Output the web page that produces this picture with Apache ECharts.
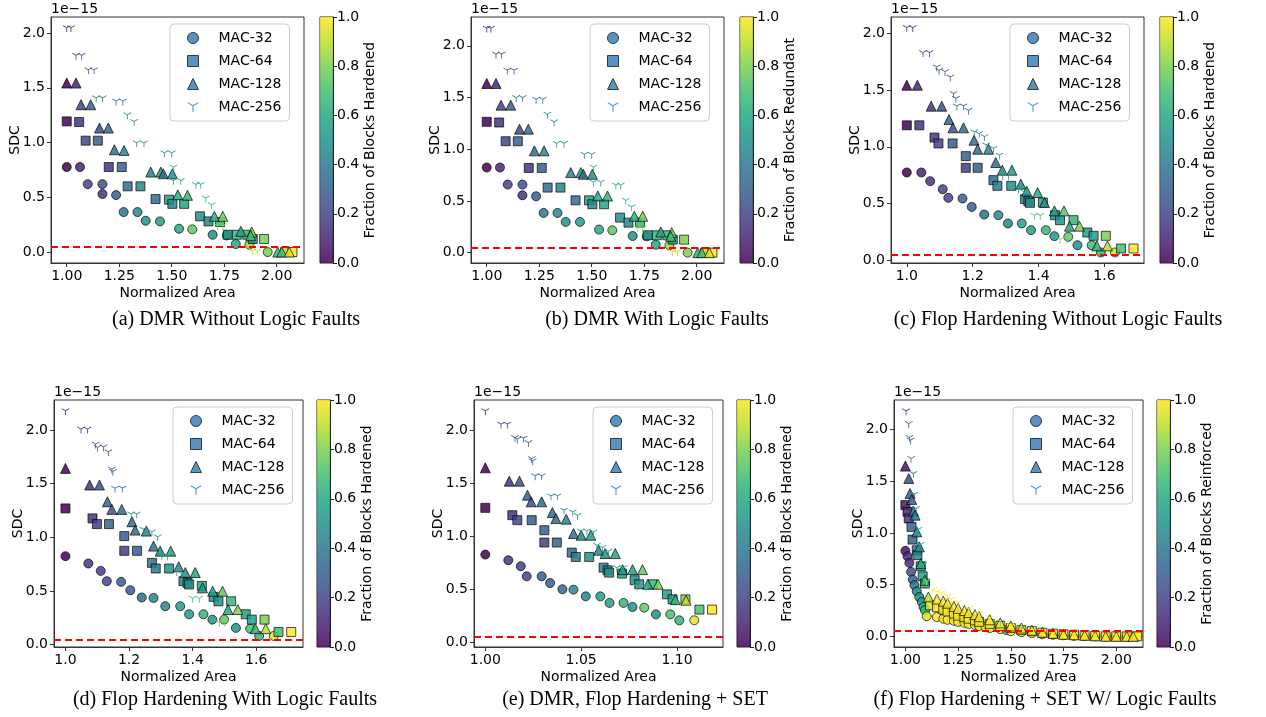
<!DOCTYPE html>
<html lang="en" style="height: 100%">
<head>
  <meta charset="utf-8">
</head>
<body style="height: 100%; margin: 0; background: #fff">
  <div id="container" style="width: 1266px; height: 717px"></div>

  <script type="text/javascript" src="https://fastly.jsdelivr.net/npm/echarts@6.0.0/dist/echarts.min.js"></script>
  <script type="text/javascript">
    // each point: [normalized area, SDC (x1e-15), fraction of blocks]
    // (a) DMR without logic faults
    var a32 = [[1.000,0.776,0.00],[1.063,0.776,0.10],[1.100,0.620,0.20],[1.170,0.620,0.25],[1.170,0.530,0.15],[1.235,0.520,0.30],[1.271,0.365,0.40],[1.337,0.365,0.45],[1.376,0.286,0.50],[1.444,0.280,0.55],[1.535,0.213,0.60],[1.598,0.207,0.75],[1.695,0.158,0.50],[1.762,0.152,0.60],[1.805,0.073,0.60],[1.870,0.067,0.85],[1.957,0.000,0.80]];
    var a64 = [[1.000,1.193,0.00],[1.059,1.187,0.15],[1.090,1.017,0.20],[1.148,1.017,0.30],[1.200,0.776,0.15],[1.262,0.776,0.30],[1.290,0.600,0.35],[1.351,0.600,0.45],[1.423,0.484,0.35],[1.487,0.478,0.55],[1.503,0.440,0.45],[1.559,0.440,0.60],[1.635,0.326,0.50],[1.675,0.280,0.45],[1.730,0.274,0.65],[1.767,0.158,0.50],[1.810,0.158,0.65],[1.860,0.158,0.65],[1.886,0.119,0.50],[1.940,0.119,0.80],[2.040,0.000,0.90],[2.075,0.000,1.00]];
    var a128 = [[1.000,1.543,0.00],[1.044,1.543,0.10],[1.068,1.345,0.20],[1.114,1.345,0.30],[1.156,1.132,0.20],[1.198,1.132,0.35],[1.227,0.934,0.35],[1.273,0.928,0.45],[1.400,0.730,0.45],[1.448,0.730,0.55],[1.460,0.715,0.35],[1.503,0.715,0.50],[1.529,0.523,0.60],[1.575,0.518,0.65],[1.703,0.326,0.65],[1.743,0.326,0.80],[1.829,0.189,0.60],[1.881,0.183,0.80],[1.876,0.149,0.70],[2.005,0.000,0.65],[2.024,0.000,0.70],[2.060,0.000,0.95]];
    var a256 = [[1.000,2.040,0.10],[1.020,2.040,0.10],[1.044,1.787,0.20],[1.071,1.787,0.20],[1.103,1.656,0.25],[1.130,1.656,0.25],[1.140,1.400,0.35],[1.171,1.400,0.35],[1.235,1.370,0.35],[1.267,1.370,0.35],[1.289,1.245,0.45],[1.321,1.184,0.45],[1.333,0.989,0.50],[1.368,0.989,0.50],[1.465,0.898,0.45],[1.500,0.898,0.45],[1.508,0.767,0.60],[1.508,0.645,0.55],[1.543,0.645,0.55],[1.615,0.609,0.60],[1.638,0.609,0.60],[1.662,0.484,0.65],[1.690,0.423,0.65],[1.717,0.234,0.80],[1.743,0.234,0.80],[1.884,0.000,0.90],[1.908,0.000,0.90]];

    // (b) DMR with logic faults
    var b32 = [[1.000,0.823,0.00],[1.063,0.823,0.10],[1.100,0.658,0.20],[1.170,0.658,0.25],[1.170,0.555,0.15],[1.235,0.545,0.30],[1.271,0.384,0.40],[1.337,0.384,0.45],[1.376,0.297,0.50],[1.444,0.297,0.55],[1.535,0.223,0.60],[1.598,0.216,0.75],[1.695,0.161,0.50],[1.762,0.158,0.60],[1.805,0.077,0.60],[1.870,0.071,0.85],[1.957,0.000,0.80]];
    var b64 = [[1.000,1.265,0.00],[1.059,1.258,0.15],[1.090,1.077,0.20],[1.148,1.077,0.30],[1.200,0.819,0.15],[1.262,0.819,0.30],[1.290,0.629,0.35],[1.351,0.629,0.45],[1.423,0.506,0.35],[1.487,0.506,0.55],[1.503,0.468,0.45],[1.559,0.468,0.60],[1.635,0.339,0.50],[1.675,0.290,0.45],[1.730,0.290,0.65],[1.767,0.168,0.50],[1.810,0.168,0.65],[1.860,0.168,0.65],[1.886,0.126,0.50],[1.940,0.126,0.80],[2.040,0.000,0.90],[2.075,0.000,1.00]];
    var b128 = [[1.000,1.635,0.00],[1.044,1.635,0.10],[1.068,1.426,0.20],[1.114,1.426,0.30],[1.156,1.194,0.20],[1.198,1.194,0.35],[1.227,0.984,0.35],[1.273,0.984,0.45],[1.400,0.774,0.45],[1.448,0.774,0.55],[1.460,0.758,0.35],[1.503,0.758,0.50],[1.529,0.548,0.60],[1.575,0.548,0.65],[1.703,0.352,0.65],[1.743,0.352,0.80],[1.829,0.200,0.60],[1.881,0.194,0.80],[1.876,0.158,0.70],[2.005,0.000,0.65],[2.024,0.000,0.70],[2.060,0.000,0.95]];
    var b256 = [[1.000,2.161,0.10],[1.020,2.161,0.10],[1.044,1.910,0.20],[1.071,1.910,0.20],[1.098,1.755,0.25],[1.130,1.755,0.25],[1.140,1.490,0.35],[1.171,1.490,0.35],[1.235,1.474,0.35],[1.267,1.474,0.35],[1.289,1.329,0.45],[1.321,1.255,0.45],[1.333,1.048,0.50],[1.368,1.048,0.50],[1.465,0.942,0.45],[1.500,0.942,0.45],[1.508,0.819,0.60],[1.508,0.674,0.55],[1.543,0.674,0.55],[1.615,0.645,0.60],[1.638,0.645,0.60],[1.662,0.497,0.65],[1.690,0.435,0.65],[1.717,0.232,0.80],[1.743,0.232,0.80],[1.884,0.000,0.90],[1.908,0.000,0.90]];

    // (c) flop hardening without logic faults
    var c32 = [[1.000,0.774,0.00],[1.044,0.774,0.10],[1.071,0.697,0.15],[1.109,0.626,0.20],[1.126,0.550,0.20],[1.169,0.544,0.30],[1.197,0.470,0.30],[1.235,0.403,0.35],[1.278,0.397,0.45],[1.307,0.324,0.45],[1.349,0.324,0.55],[1.377,0.265,0.55],[1.422,0.265,0.65],[1.448,0.212,0.50],[1.490,0.206,0.75],[1.518,0.132,0.50],[1.561,0.132,0.70],[1.589,0.068,0.65],[1.632,0.068,0.95]];
    var c64 = [[1.000,1.190,0.00],[1.038,1.190,0.15],[1.084,1.082,0.15],[1.096,1.030,0.20],[1.139,1.030,0.30],[1.179,0.918,0.30],[1.179,0.815,0.18],[1.215,0.815,0.30],[1.263,0.706,0.35],[1.275,0.656,0.40],[1.317,0.656,0.50],[1.359,0.538,0.45],[1.369,0.520,0.40],[1.374,0.506,0.50],[1.413,0.509,0.60],[1.450,0.397,0.50],[1.465,0.353,0.50],[1.506,0.353,0.65],[1.548,0.244,0.55],[1.567,0.215,0.55],[1.604,0.215,0.80],[1.650,0.103,0.70],[1.688,0.103,1.00]];
    var c128 = [[1.000,1.544,0.00],[1.032,1.544,0.10],[1.074,1.359,0.15],[1.106,1.359,0.25],[1.128,1.241,0.30],[1.140,1.168,0.25],[1.172,1.168,0.35],[1.204,1.059,0.35],[1.215,0.979,0.35],[1.248,0.979,0.45],[1.270,0.862,0.38],[1.290,0.794,0.45],[1.319,0.794,0.55],[1.346,0.671,0.45],[1.364,0.609,0.50],[1.397,0.597,0.60],[1.418,0.509,0.50],[1.448,0.435,0.55],[1.477,0.435,0.75],[1.494,0.300,0.60],[1.524,0.300,0.80],[1.577,0.126,0.65],[1.609,0.126,0.90]];
    var c256 = [[1.000,2.044,0.10],[1.018,2.044,0.10],[1.049,1.824,0.15],[1.069,1.824,0.15],[1.091,1.697,0.25],[1.098,1.668,0.25],[1.116,1.656,0.25],[1.132,1.609,0.25],[1.142,1.462,0.30],[1.149,1.421,0.30],[1.152,1.353,0.30],[1.172,1.353,0.30],[1.187,1.315,0.30],[1.205,1.124,0.45],[1.220,1.109,0.45],[1.236,1.082,0.45],[1.241,1.009,0.50],[1.263,0.979,0.50],[1.281,0.918,0.50],[1.291,0.735,0.55],[1.309,0.735,0.55],[1.339,0.618,0.60],[1.354,0.597,0.60],[1.387,0.388,0.70],[1.405,0.388,0.70],[1.465,0.176,0.80],[1.486,0.176,0.80]];

    // (d) flop hardening with logic faults
    var d32 = [[1.000,0.824,0.00],[1.072,0.756,0.15],[1.111,0.687,0.18],[1.130,0.591,0.22],[1.175,0.585,0.30],[1.204,0.507,0.30],[1.240,0.439,0.35],[1.277,0.435,0.45],[1.314,0.358,0.45],[1.361,0.358,0.55],[1.389,0.283,0.55],[1.434,0.283,0.65],[1.462,0.233,0.50],[1.499,0.233,0.75],[1.536,0.156,0.50],[1.581,0.149,0.70],[1.609,0.081,0.65],[1.655,0.081,0.95]];
    var d64 = [[1.000,1.269,0.00],[1.085,1.176,0.15],[1.099,1.123,0.20],[1.137,1.123,0.30],[1.185,1.011,0.30],[1.185,0.874,0.18],[1.225,0.874,0.30],[1.272,0.762,0.35],[1.284,0.709,0.40],[1.326,0.709,0.50],[1.371,0.591,0.45],[1.384,0.575,0.40],[1.389,0.560,0.50],[1.429,0.547,0.60],[1.466,0.445,0.50],[1.481,0.404,0.50],[1.521,0.404,0.65],[1.567,0.283,0.55],[1.586,0.233,0.55],[1.626,0.233,0.80],[1.670,0.118,0.70],[1.710,0.118,1.00]];
    var d128 = [[1.000,1.642,0.00],[1.076,1.487,0.15],[1.107,1.487,0.25],[1.132,1.331,0.30],[1.146,1.260,0.25],[1.177,1.260,0.35],[1.209,1.145,0.35],[1.219,1.067,0.35],[1.254,1.058,0.45],[1.277,0.918,0.38],[1.298,0.871,0.45],[1.331,0.871,0.55],[1.356,0.725,0.45],[1.377,0.672,0.50],[1.408,0.672,0.60],[1.431,0.529,0.50],[1.463,0.498,0.55],[1.494,0.498,0.75],[1.511,0.327,0.60],[1.542,0.327,0.80],[1.597,0.149,0.65],[1.630,0.149,0.90]];
    var d256 = [[1.000,2.171,0.10],[1.049,2.000,0.15],[1.069,2.000,0.15],[1.095,1.860,0.25],[1.101,1.829,0.25],[1.120,1.835,0.25],[1.135,1.788,0.25],[1.146,1.627,0.30],[1.149,1.605,0.30],[1.156,1.449,0.30],[1.179,1.449,0.30],[1.207,1.207,0.45],[1.224,1.207,0.45],[1.245,1.067,0.50],[1.272,1.042,0.50],[1.290,0.995,0.50],[1.303,0.818,0.55],[1.321,0.818,0.55],[1.350,0.672,0.60],[1.366,0.653,0.60],[1.400,0.423,0.70],[1.421,0.423,0.70],[1.484,0.196,0.80],[1.502,0.196,0.80]];

    // (e) DMR, flop hardening + SET
    var e32 = [[1.0000,0.825,0.00],[1.0120,0.772,0.15],[1.0185,0.715,0.18],[1.0216,0.620,0.22],[1.0294,0.620,0.30],[1.0338,0.557,0.30],[1.0402,0.498,0.35],[1.0460,0.494,0.45],[1.0524,0.431,0.45],[1.0600,0.431,0.55],[1.0648,0.369,0.55],[1.0721,0.369,0.65],[1.0768,0.331,0.50],[1.0829,0.324,0.75],[1.0890,0.261,0.50],[1.0965,0.261,0.70],[1.1012,0.205,0.65],[1.1090,0.205,0.95]];
    var e64 = [[1.0000,1.266,0.00],[1.0141,1.197,0.15],[1.0167,1.150,0.20],[1.0242,1.150,0.30],[1.0308,1.055,0.30],[1.0308,0.939,0.18],[1.0373,0.939,0.30],[1.0451,0.844,0.35],[1.0472,0.803,0.40],[1.0542,0.803,0.50],[1.0617,0.702,0.45],[1.0638,0.677,0.40],[1.0646,0.655,0.50],[1.0713,0.646,0.60],[1.0779,0.583,0.50],[1.0803,0.545,0.50],[1.0873,0.545,0.65],[1.0948,0.450,0.55],[1.0977,0.403,0.55],[1.1044,0.403,0.80],[1.1117,0.306,0.70],[1.1183,0.306,1.00]];
    var e128 = [[1.0000,1.644,0.00],[1.0125,1.518,0.15],[1.0178,1.518,0.25],[1.0220,1.386,0.30],[1.0239,1.323,0.25],[1.0294,1.323,0.35],[1.0350,1.222,0.35],[1.0368,1.165,0.35],[1.0422,1.159,0.45],[1.0460,1.024,0.38],[1.0500,1.008,0.45],[1.0550,1.008,0.55],[1.0591,0.866,0.45],[1.0625,0.835,0.50],[1.0678,0.835,0.60],[1.0716,0.683,0.50],[1.0768,0.683,0.55],[1.0820,0.683,0.75],[1.0848,0.545,0.60],[1.0901,0.545,0.80],[1.0991,0.400,0.65],[1.1047,0.394,0.90]];
    var e256 = [[1.0000,2.173,0.10],[1.0082,2.047,0.15],[1.0115,2.047,0.15],[1.0155,1.921,0.25],[1.0167,1.906,0.25],[1.0199,1.915,0.25],[1.0225,1.874,0.25],[1.0242,1.723,0.30],[1.0247,1.701,0.30],[1.0260,1.559,0.30],[1.0294,1.559,0.30],[1.0343,1.370,0.40],[1.0376,1.370,0.40],[1.0411,1.235,0.45],[1.0456,1.219,0.45],[1.0481,1.187,0.45],[1.0498,1.039,0.50],[1.0530,1.039,0.50],[1.0564,1.030,0.50],[1.0582,0.904,0.55],[1.0611,0.882,0.55],[1.0643,0.850,0.55],[1.0686,0.693,0.60],[1.0721,0.693,0.60],[1.0791,0.520,0.70],[1.0834,0.510,0.70]];

    // (f) flop hardening + SET with logic faults
    var f32 = [[1.000,0.826,0.05],[1.010,0.774,0.12],[1.019,0.710,0.12],[1.027,0.623,0.25],[1.035,0.548,0.30],[1.043,0.494,0.40],[1.054,0.435,0.45],[1.066,0.380,0.50],[1.078,0.332,0.55],[1.086,0.284,0.60],[1.093,0.252,0.65],[1.101,0.194,0.95],[1.149,0.187,1.00],[1.180,0.170,1.00],[1.200,0.160,1.00],[1.230,0.150,1.00],[1.250,0.140,1.00],[1.280,0.130,1.00],[1.300,0.120,1.00],[1.330,0.110,1.00],[1.350,0.100,1.00],[1.380,0.090,1.00],[1.400,0.080,1.00],[1.450,0.070,1.00],[1.480,0.060,0.70],[1.500,0.050,1.00],[1.550,0.040,1.00],[1.600,0.030,1.00],[1.650,0.020,1.00],[1.700,0.015,1.00],[1.750,0.010,1.00],[1.800,0.005,1.00],[1.850,0.005,1.00],[1.900,0.000,1.00],[1.950,0.000,1.00],[2.000,0.000,1.00],[2.050,0.000,1.00],[2.100,0.000,1.00]];
    var f64 = [[1.000,1.268,0.05],[1.010,1.203,0.12],[1.016,1.139,0.15],[1.029,1.058,0.30],[1.034,0.935,0.30],[1.054,0.832,0.40],[1.057,0.784,0.45],[1.073,0.677,0.50],[1.082,0.580,0.55],[1.093,0.510,0.60],[1.117,0.300,0.95],[1.150,0.280,1.00],[1.180,0.260,1.00],[1.200,0.240,1.00],[1.230,0.220,1.00],[1.250,0.200,1.00],[1.280,0.185,1.00],[1.300,0.170,1.00],[1.330,0.155,1.00],[1.350,0.140,1.00],[1.400,0.120,1.00],[1.450,0.100,1.00],[1.500,0.080,1.00],[1.550,0.060,1.00],[1.600,0.050,1.00],[1.650,0.035,1.00],[1.700,0.025,1.00],[1.750,0.020,1.00],[1.800,0.015,1.00],[1.850,0.010,1.00],[1.900,0.005,1.00],[1.950,0.000,1.00],[2.000,0.000,1.00],[2.050,0.000,1.00],[2.100,0.000,1.00]];
    var f128 = [[1.000,1.645,0.05],[1.016,1.526,0.25],[1.022,1.381,0.30],[1.030,1.323,0.30],[1.038,1.210,0.35],[1.046,1.171,0.40],[1.054,1.010,0.45],[1.066,0.865,0.50],[1.073,0.703,0.60],[1.093,0.542,0.65],[1.109,0.381,0.90],[1.150,0.360,1.00],[1.180,0.340,1.00],[1.200,0.320,1.00],[1.230,0.290,1.00],[1.250,0.270,1.00],[1.280,0.250,1.00],[1.300,0.230,1.00],[1.330,0.210,1.00],[1.350,0.190,1.00],[1.400,0.160,1.00],[1.450,0.130,1.00],[1.500,0.100,1.00],[1.550,0.080,1.00],[1.600,0.060,1.00],[1.650,0.040,1.00],[1.700,0.030,1.00],[1.750,0.020,1.00],[1.800,0.015,1.00],[1.850,0.010,1.00],[1.900,0.005,1.00],[1.950,0.000,1.00],[2.000,0.000,1.00],[2.050,0.000,1.00],[2.080,0.000,1.00]];
    var f256 = [[1.003,2.171,0.10],[1.016,2.048,0.25],[1.019,1.913,0.30],[1.025,1.887,0.30],[1.027,1.710,0.35],[1.038,1.565,0.40],[1.043,1.365,0.40],[1.051,1.226,0.45],[1.062,1.026,0.50],[1.073,0.881,0.55],[1.085,0.687,0.65],[1.101,0.526,0.90],[1.130,0.440,1.00],[1.150,0.420,1.00],[1.170,0.410,1.00],[1.200,0.380,1.00],[1.220,0.350,1.00],[1.250,0.320,1.00],[1.300,0.260,1.00],[1.350,0.210,1.00],[1.400,0.170,1.00],[1.450,0.130,0.70],[1.500,0.100,1.00],[1.550,0.070,0.70],[1.600,0.050,1.00],[1.650,0.030,1.00],[1.700,0.020,1.00],[1.800,0.010,1.00],[1.900,0.000,1.00],[2.000,0.000,1.00]];

    var seriesNames = ['MAC-32', 'MAC-64', 'MAC-128', 'MAC-256'];
    var captions = ['(a) DMR Without Logic Faults', '(b) DMR With Logic Faults', '(c) Flop Hardening Without Logic Faults',
      '(d) Flop Hardening With Logic Faults', '(e) DMR, Flop Hardening + SET', '(f) Flop Hardening + SET W/ Logic Faults'];
    var cbarNames = ['Fraction of Blocks Hardened', 'Fraction of Blocks Redundant', 'Fraction of Blocks Hardened',
      'Fraction of Blocks Hardened', 'Fraction of Blocks Hardened', 'Fraction of Blocks Reinforced'];
    var xTicksWide = [1.0, 1.25, 1.5, 1.75, 2.0];
    var xTicksFlop = [1.0, 1.2, 1.4, 1.6];
    var xTicksSet = [1.0, 1.05, 1.1];
    var yTicks = [0, 0.5, 1.0, 1.5, 2.0];
    var sdcLimit = 0.05;

    var viridis = ['#440154', '#482475', '#414487', '#355f8d', '#2a788e', '#21918c', '#22a884', '#44bf70', '#7ad151', '#bddf26', '#fde725'];
    var FONT = 'DejaVu Sans';
    var triDown = 'path://M9 10L11 10L11 20L9 20Z M10.5 9.134L9.5 10.866L0.84 5.866L1.84 4.134Z M10.5 10.866L9.5 9.134L18.16 4.134L19.16 5.866Z';

    // layout of the six panels (pixels)
    var panels = [
      { data: [a32, a64, a128, a256], left: 51, top: 17, w: 253, h: 246, x: [0.925, 2.13], y: [-0.10, 2.146], xt: xTicksWide, xd: 2, cb: 320, cap: [236, 320] },
      { data: [b32, b64, b128, b256], left: 471, top: 17, w: 253, h: 246, x: [0.925, 2.13], y: [-0.10, 2.278], xt: xTicksWide, xd: 2, cb: 740, cap: [657, 320] },
      { data: [c32, c64, c128, c256], left: 891, top: 17, w: 253, h: 246, x: [0.952, 1.72], y: [-0.025, 2.146], xt: xTicksFlop, xd: 1, cb: 1160, cap: [1058, 320] },
      { data: [d32, d64, d128, d256], left: 54, top: 400, w: 249, h: 247, x: [0.964, 1.747], y: [-0.022, 2.279], xt: xTicksFlop, xd: 1, cb: 317, cap: [225, 700] },
      { data: [e32, e64, e128, e256], left: 474, top: 400, w: 249, h: 247, x: [0.9941, 1.124], y: [-0.047, 2.284], xt: xTicksSet, xd: 2, cb: 737, cap: [635, 700] },
      { data: [f32, f64, f128, f256], left: 894, top: 400, w: 249, h: 247, x: [0.946, 2.127], y: [-0.103, 2.284], xt: xTicksWide, xd: 2, cb: 1157, cap: [1045, 700] }
    ];

    var symbols = ['circle', 'rect', 'triangle', triDown];
    var sizes = [9, 9, 10, 8];

    var grids = [], xAxes = [], yAxes = [], series = [], legends = [], graphics = [];
    var axisFont = { fontFamily: FONT, fontSize: 14, color: '#000' };

    panels.forEach(function (p, i) {
      grids.push({ left: p.left, top: p.top, width: p.w, height: p.h, show: true, borderColor: '#333', borderWidth: 1, outerBoundsMode: 'none' });
      xAxes.push({
        gridIndex: i, type: 'value', min: p.x[0], max: p.x[1],
        axisLine: { show: true, onZero: false, lineStyle: { color: '#333' } },
        axisTick: { show: true, length: 4, customValues: p.xt, lineStyle: { color: '#333' } },
        axisLabel: Object.assign({ customValues: p.xt, margin: 6, formatter: function (v) { return v.toFixed(p.xd); } }, axisFont),
        splitLine: { show: false },
        name: 'Normalized Area', nameLocation: 'middle', nameGap: 23, nameTextStyle: axisFont
      });
      yAxes.push({
        gridIndex: i, type: 'value', min: p.y[0], max: p.y[1],
        axisLine: { show: true, onZero: false, lineStyle: { color: '#333' } },
        axisTick: { show: true, length: 4, customValues: yTicks, lineStyle: { color: '#333' } },
        axisLabel: Object.assign({ customValues: yTicks, margin: 6, formatter: function (v) { return v.toFixed(1); } }, axisFont),
        splitLine: { show: false },
        name: 'SDC', nameLocation: 'middle', nameGap: 29, nameMoveOverlap: false, nameTextStyle: axisFont
      });
      p.data.forEach(function (d, k) {
        var s = {
          type: 'scatter', name: seriesNames[k], xAxisIndex: i, yAxisIndex: i, data: d,
          symbol: symbols[k], symbolSize: sizes[k], symbolKeepAspect: true,
          itemStyle: k < 3 ? { borderColor: '#000', borderWidth: 0.8, opacity: 0.85 } : { borderWidth: 0, opacity: 0.9 },
          emphasis: { disabled: true }
        };
        if (k === 0) {
          s.markLine = {
            silent: true, symbol: 'none', label: { show: false },
            lineStyle: { color: '#ff0000', type: [7, 4], width: 2, opacity: 1 },
            data: [{ yAxis: sdcLimit }]
          };
        }
        series.push(s);
      });
      legends.push({
        left: p.left + 119, top: p.top + 7, orient: 'vertical',
        padding: [7, 8, 7, 17], itemGap: 9, itemWidth: 11, itemHeight: 11,
        borderColor: '#ccc', borderWidth: 1, borderRadius: 4, backgroundColor: 'rgba(255,255,255,0.8)',
        textStyle: { fontFamily: FONT, fontSize: 14, color: '#000', lineHeight: 14, padding: [0, 0, 0, 15] },
        selectedMode: false,
        data: seriesNames.map(function (n, k) {
          return {
            name: n, icon: symbols[k],
            itemStyle: k < 3 ? { color: '#3b80ba', borderColor: '#222', borderWidth: 1 } : { color: '#4a92d4', borderWidth: 0 }
          };
        })
      });
      graphics.push({
        type: 'text', x: p.left, y: p.top - 1,
        style: { text: '1e\u221215', font: '14px "DejaVu Sans"', fill: '#000', align: 'left', verticalAlign: 'bottom' }
      });
      graphics.push({
        type: 'text', x: p.cap[0], y: p.cap[1],
        style: { text: captions[i], font: '20px "Liberation Serif"', fill: '#000', align: 'center', verticalAlign: 'middle' }
      });
    });

    // colorbars
    var gradient = new echarts.graphic.LinearGradient(0, 1, 0, 0, viridis.map(function (c, k) {
      return { offset: k / (viridis.length - 1), color: c };
    }));
    panels.forEach(function (p, i) {
      var gi = panels.length + i;
      grids.push({ left: p.cb, top: p.top, width: 13, height: p.h, show: true, borderColor: '#222', borderWidth: 1, outerBoundsMode: 'none' });
      xAxes.push({ gridIndex: gi, type: 'category', data: ['cb'], show: false });
      yAxes.push({
        gridIndex: gi, type: 'value', position: 'right', min: 0, max: 1, interval: 0.2,
        axisLine: { show: true, lineStyle: { color: '#222' } },
        axisTick: { show: true, length: 4, lineStyle: { color: '#222' } },
        axisLabel: Object.assign({ margin: 4, formatter: function (v) { return v.toFixed(1); } }, axisFont),
        splitLine: { show: false },
        name: cbarNames[i], nameLocation: 'middle', nameRotate: 90, nameGap: 29, nameTextStyle: axisFont
      });
      series.push({
        type: 'bar', xAxisIndex: gi, yAxisIndex: gi, data: [1], barWidth: '100%', silent: true,
        itemStyle: { color: gradient, opacity: 0.85 }
      });
    });

    var scatterIdx = [];
    for (var s = 0; s < 24; s++) scatterIdx.push(s);

    var chart = echarts.init(document.getElementById('container'), null, { renderer: 'canvas' });
    var option = {
      backgroundColor: '#fff',
      animation: false,
      grid: grids,
      xAxis: xAxes,
      yAxis: yAxes,
      legend: legends,
      visualMap: [{
        type: 'continuous', show: false, min: 0, max: 1, dimension: 2,
        seriesIndex: scatterIdx, inRange: { color: viridis }
      }],
      graphic: graphics,
      series: series
    };
    chart.setOption(option);
  </script>
</body>
</html>
